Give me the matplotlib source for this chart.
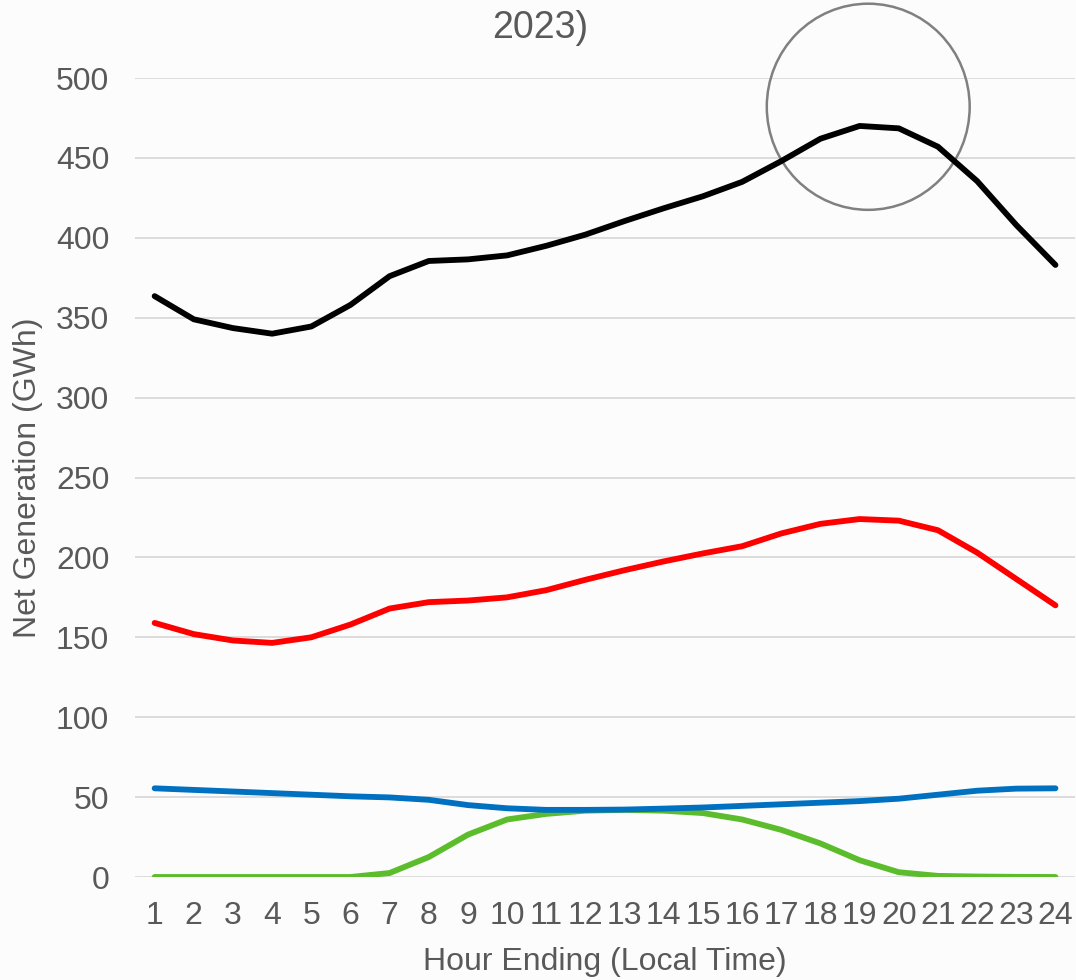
import matplotlib
matplotlib.use("Agg")
import matplotlib.pyplot as plt
from matplotlib.patches import Ellipse

plt.rcParams['font.family'] = ['Liberation Sans', 'DejaVu Sans']

hours = list(range(1, 25))
total = [363.5, 349, 343.5, 340, 344.5, 358, 376, 385.5, 386.5, 389, 395, 402,
         410.5, 418.5, 426, 435, 448, 462, 470, 468.5, 457, 435.5, 408, 383]
red_series = [159, 152, 148, 146.5, 150, 158, 168, 172, 173, 175, 179.5, 186,
              192, 197.5, 202.5, 207, 215, 221, 224, 223, 217, 203, 186.5, 170]
blue_series = [55.5, 54.5, 53.5, 52.5, 51.5, 50.5, 49.8, 48.3, 45, 43, 42, 42,
               42.2, 42.8, 43.5, 44.5, 45.5, 46.5, 47.5, 49, 51.5, 54, 55.3, 55.5]
green_series = [0, 0, 0, 0, 0, 0, 2.5, 12.5, 26.5, 36, 39.5, 41.5,
                42, 41.5, 40, 36, 29.5, 21, 10.5, 3, 0.7, 0.3, 0.1, 0]

txt = '#595959'
bg = '#fcfcfc'

fig = plt.figure(figsize=(10.76, 9.8), dpi=100, facecolor=bg)
ax = fig.add_axes([0.1255, 0.1051, 0.8736, 0.8153], facecolor=bg)

lw = 4.2
ax.plot(hours, green_series, color='#5bbd2b', lw=lw, solid_capstyle='round')
ax.plot(hours, blue_series, color='#0070c0', lw=lw, solid_capstyle='round')
ax.plot(hours, red_series, color='#ff0000', lw=lw, solid_capstyle='round')
ax.plot(hours, total, color='#000000', lw=lw, solid_capstyle='round')

# highlight circle around the evening peak
ax.add_patch(Ellipse((19.22, 482), 5.18, 129, fill=False, edgecolor='#808080',
                     lw=1.8, clip_on=False))

ax.set_xlim(0.5, 24.5)
ax.set_ylim(0, 500)
ax.set_xticks(hours)
ax.set_yticks(range(0, 501, 50))
ax.grid(axis='y', color='#d9d9d9', lw=1.3)
ax.set_axisbelow(True)
for s in ax.spines.values():
    s.set_visible(False)
ax.tick_params(length=0, labelsize=23, colors=txt)
ax.tick_params(axis='x', pad=17.5)
ax.tick_params(axis='y', pad=18.5)

ax.set_xlabel('Hour Ending (Local Time)', fontsize=23, color=txt, labelpad=11)
ax.set_ylabel('Net Generation (GWh)', fontsize=23, color=txt, labelpad=9)

fig.text(0.502, 0.971, '2023)', fontsize=27, color=txt, ha='center', va='center')

fig.savefig('out.png', dpi=100, facecolor=bg)
